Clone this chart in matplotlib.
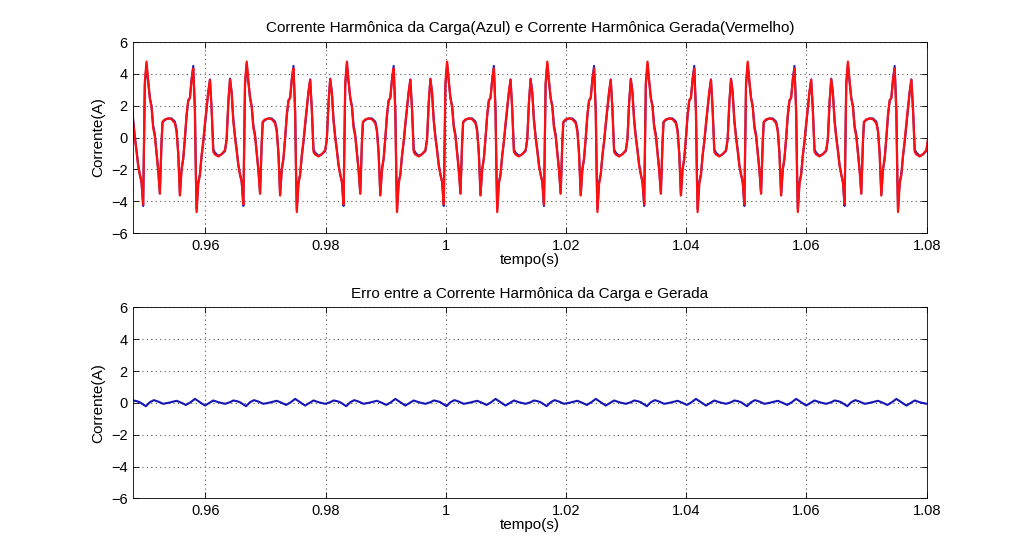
import numpy as np
import matplotlib
matplotlib.use("Agg")
import matplotlib.pyplot as plt

plt.rcParams['font.family'] = ['Liberation Sans', 'DejaVu Sans']

# ---- data (one 60 Hz cycle, phase in 1/300 of cycle) ----
f_rede = 60.0
t_inicio = 0.94967          # start of the cycle used as reference (s)
n_ciclos = (-1, 9)          # cycles drawn before/after the reference one

fase_carga = [0, 5, 10, 15, 20, 25, 30, 35, 40, 45, 50, 55, 58, 65, 75, 85, 95,
              100, 105, 110, 115, 120, 125, 130, 135, 140, 145, 150, 155, 158,
              160, 165, 170, 175, 180, 185, 190, 195, 200, 205, 210, 215, 225,
              235, 245, 250, 255, 260, 265, 270, 275, 280, 285, 290, 295]
corrente_carga = [-4.3, 3.3, 4.6, 3.5, 2.5, 2.0, 0.75, 0.2, -0.9, -2.0, -3.5,
                  -0.3, 0.95, 1.1, 1.2, 1.2, 1.0, 0.5, -0.95, -3.6, -2.0, -1.35,
                  -0.1, 1.35, 2.3, 2.5, 3.7, 4.5, 1.8, -2.4, -4.5, -2.8, -2.3,
                  -1.15, -0.3, 0.75, 1.8, 2.85, 3.65, 1.8, -0.75, -0.95, -1.15,
                  -1.05, -0.85, -0.1, 2.2, 3.7, 2.85, 1.15, 0.1, -0.75, -1.7,
                  -2.3, -2.8]

fase_erro = [8, 20, 32, 45, 60, 75, 100, 115, 128, 142, 155, 170, 185, 198,
             210, 225, 245, 260, 270, 280, 290]
erro = [-0.21, 0.04, 0.17, 0.08, -0.06, 0.0, 0.13, 0.0, -0.13, 0.04, 0.25,
        0.04, -0.17, 0.0, 0.15, 0.04, -0.06, 0.04, 0.15, 0.11, 0.04]

xticks = [0.96, 0.98, 1.00, 1.02, 1.04, 1.06, 1.08]
xticklabels = ['0.96', '0.98', '1', '1.02', '1.04', '1.06', '1.08']
yticks = [-6, -4, -2, 0, 2, 4, 6]
xlim = (0.948, 1.08)
ylim = (-6, 6)

titulo1 = 'Corrente Harmônica da Carga(Azul) e Corrente Harmônica Gerada(Vermelho)'
titulo2 = 'Erro entre a Corrente Harmônica da Carga e Gerada'

# ---- build the periodic series from the one cycle read ----
T = 1.0 / f_rede
fc = np.array(fase_carga) / 300.0
ic = np.array(corrente_carga)
fe = np.array(fase_erro) / 300.0
ie = np.array(erro)
ks = np.arange(*n_ciclos)
t_carga = np.concatenate([t_inicio + (k + fc) * T for k in ks])
i_carga = np.tile(ic, len(ks))
t_erro = np.concatenate([t_inicio + (k + fe) * T for k in ks])
i_erro = np.tile(ie, len(ks))
i_gerada = i_carga - np.interp(t_carga, t_erro, i_erro)

fig = plt.figure(figsize=(10.24, 5.6), dpi=100)
fig.patch.set_facecolor('white')
ax1 = fig.add_axes([0.13, 0.5838, 0.775, 0.3412])
ax2 = fig.add_axes([0.13, 0.11, 0.775, 0.3412])

ax1.plot(t_carga, i_carga, color='#2020c0', lw=1.5)
ax1.plot(t_carga, i_gerada, color='#ff1010', lw=1.6)
ax2.plot(t_erro, i_erro, color='#1515b5', lw=1.5)

for ax, tt in ((ax1, titulo1), (ax2, titulo2)):
    ax.set_xlim(*xlim)
    ax.set_ylim(*ylim)
    ax.set_xticks(xticks)
    ax.set_xticklabels(xticklabels)
    ax.set_yticks(yticks)
    ax.grid(True, linestyle=(0, (1, 3)), color='0.35', linewidth=0.8)
    ax.tick_params(direction='in', top=True, right=True, length=4,
                   labelsize=10.5, width=0.6, pad=4)
    for s in ax.spines.values():
        s.set_linewidth(0.6)
    ax.set_title(tt, fontsize=11, pad=7)
    ax.set_xlabel('tempo(s)', fontsize=11, labelpad=0)
    ax.set_ylabel('Corrente(A)', fontsize=11, labelpad=4)

fig.savefig('out.png', dpi=100, facecolor='white')
